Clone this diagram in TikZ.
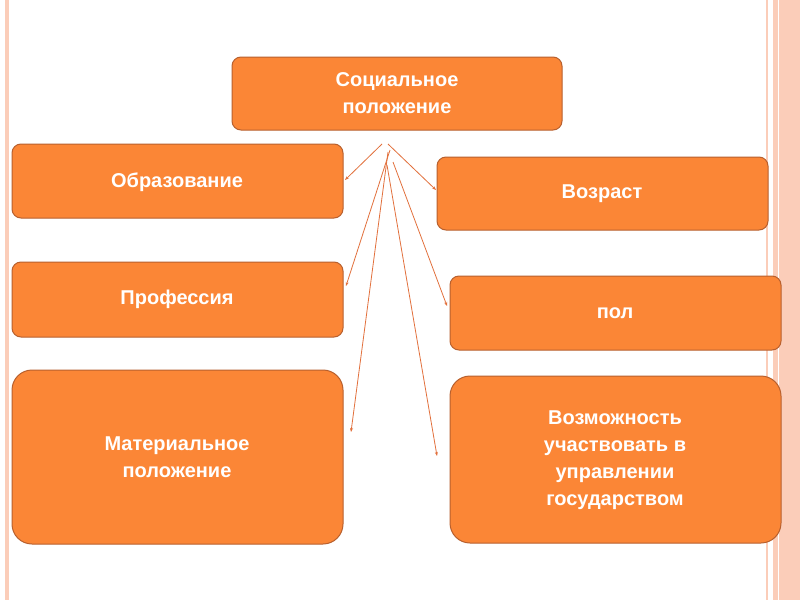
\documentclass[tikz,border=0pt]{standalone}
\usepackage{fontspec}
\setmainfont{Liberation Sans}
\usetikzlibrary{arrows.meta}
\begin{document}
\begin{tikzpicture}[x=1pt,y=-1pt,
  box/.style={draw=boxedge,line width=1pt,fill=boxfill,rounded corners=9pt},
  lbl/.style={text=white,font=\bfseries\fontsize{20}{27}\selectfont,align=center},
  arr/.style={draw=arrowc,line width=0.8pt,-{Stealth[length=4pt,width=3pt]}}]
\definecolor{boxfill}{HTML}{FB8636}
\definecolor{boxedge}{HTML}{B8602E}
\definecolor{arrowc}{HTML}{E2703C}
\definecolor{band}{HTML}{FBCDB9}
\useasboundingbox (0,0) rectangle (800,600);
\fill[white] (0,0) rectangle (800,600);
\fill[band] (5,0) rectangle (9,600);
\fill[band] (766,0) rectangle (768,600);
\fill[band] (773,0) rectangle (800,600);
\draw[white,line width=1pt] (778,0) -- (778,600);
\draw[box] (232,57) rectangle (562,130);
\node[lbl] (soc) at (397,93) {Социальное\\положение};
\draw[box] (12,144) rectangle (343,218);
\node[lbl] (obr) at (177,182) {Образование};
\draw[box] (437,157) rectangle (768,230);
\node[lbl] (voz) at (602,194) {Возраст};
\draw[box] (12,262) rectangle (343,337);
\node[lbl] (pro) at (177,299) {Профессия};
\draw[box] (450,276) rectangle (781,350);
\node[lbl] (pol) at (615,313) {пол};
\draw[box,rounded corners=20pt] (12,370) rectangle (343,544);
\node[lbl] (mat) at (177,457) {Материальное\\положение};
\draw[box,rounded corners=20pt] (450,376) rectangle (781,543);
\node[lbl] (vzm) at (615,460) {Возможность\\участвовать в\\управлении\\государством};
\coordinate (s1) at (382,144);
\coordinate (s2) at (388,144);
\coordinate (s3) at (390,150);
\coordinate (s4) at (388,152);
\coordinate (s5) at (387,165);
\coordinate (s6) at (393,162);
\coordinate (t1) at (345,180);
\coordinate (t2) at (436,190);
\coordinate (t3) at (346,286);
\coordinate (t4) at (351,432);
\coordinate (t5) at (447,306);
\coordinate (t6) at (437,456);
\draw[arr] (s1) -- (t1);
\draw[arr] (s2) -- (t2);
\draw[arr] (s3) -- (t3);
\draw[arr] (s4) -- (t4);
\draw[arr] (s5) -- (t6);
\draw[arr] (s6) -- (t5);
\end{tikzpicture}
\end{document}
